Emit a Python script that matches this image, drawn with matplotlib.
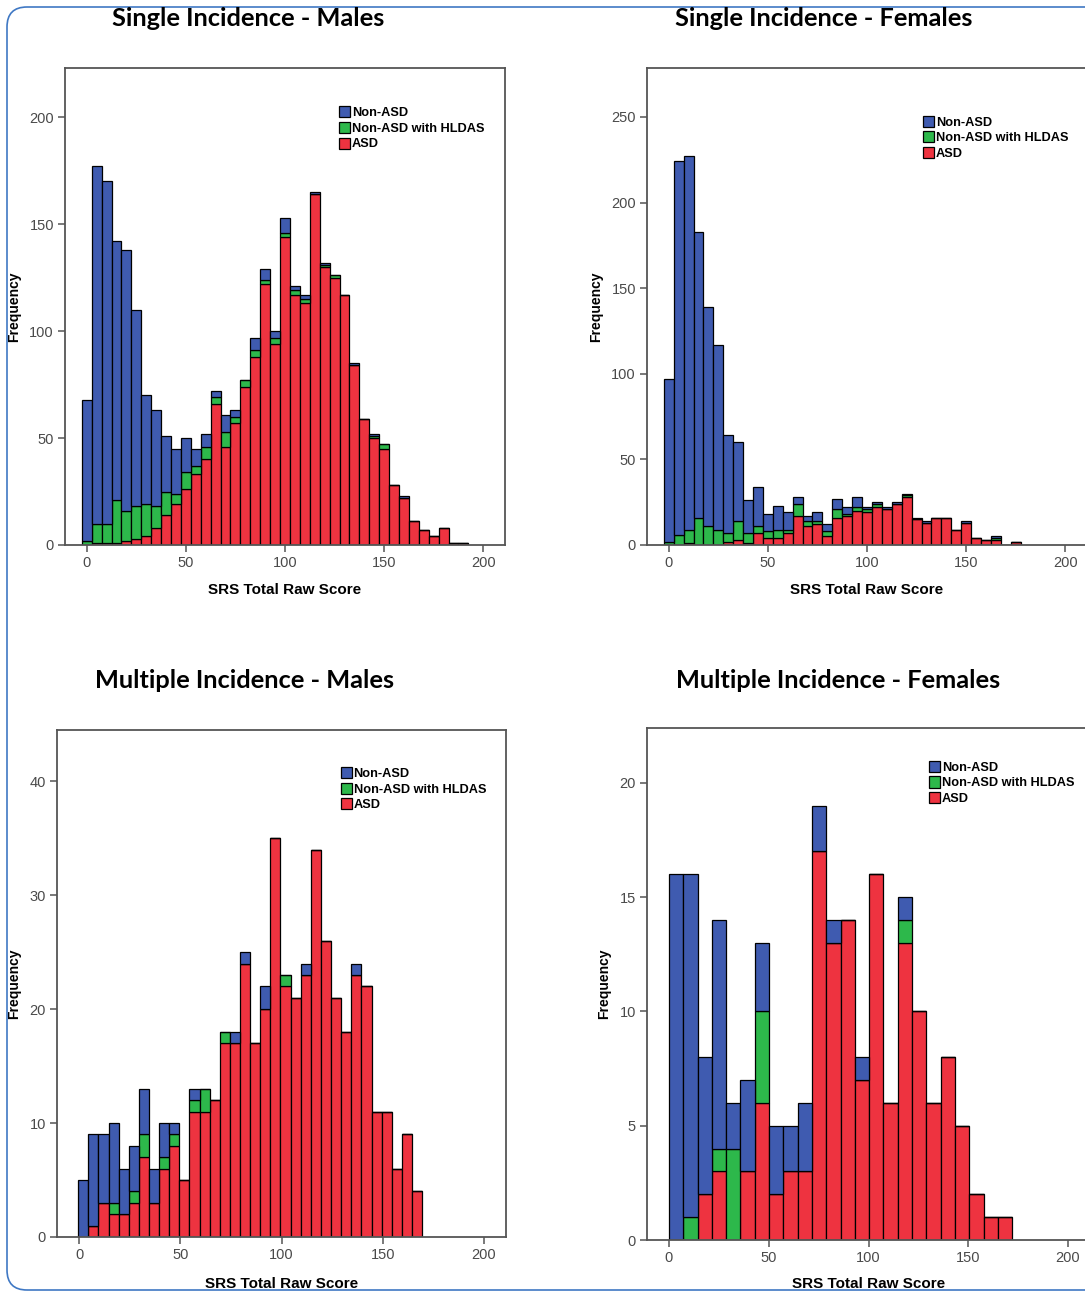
import matplotlib
matplotlib.use("Agg")
import matplotlib.pyplot as plt
from matplotlib.patches import Patch, FancyBboxPatch
import numpy as np

# bin centres (SRS total raw score)
sm_bins = np.arange(0, 195, 5)
sf_bins = np.arange(0, 180, 5)
mm_bins = np.arange(2, 170, 5)
mf_edges = np.linspace(0, 172, 25)

# Single incidence - males
sm_nonasd = [66, 167, 160, 121, 122, 92, 51, 45, 26, 21, 16, 8, 6, 3, 8, 3, 0, 6, 5, 3,
             7, 2, 2, 1, 1, 0, 0, 1, 0, 1, 0, 0, 1, 0, 0, 0, 0, 0, 0]
sm_hldas = [2, 9, 9, 20, 14, 15, 15, 10, 11, 5, 8, 4, 6, 3, 7, 3, 3, 3, 2, 3,
            2, 2, 2, 0, 1, 1, 0, 0, 0, 1, 2, 0, 0, 0, 0, 0, 0, 0, 0]
sm_asd = [0, 1, 1, 1, 2, 3, 4, 8, 14, 19, 26, 33, 40, 66, 46, 57, 74, 88, 122, 94,
          144, 117, 113, 164, 130, 125, 117, 84, 59, 50, 45, 28, 22, 11, 7, 4, 8, 1, 1]

# Single incidence - females
sf_nonasd = [95, 218, 218, 167, 128, 108, 57, 46, 19, 23, 10, 14, 10, 4, 3, 5, 4, 6,
             4, 6, 1, 1, 1, 1, 1, 1, 1, 0, 0, 0, 1, 0, 0, 1, 0, 0]
sf_hldas = [2, 6, 8, 16, 11, 9, 5, 11, 6, 4, 4, 5, 2, 7, 3, 2, 3, 5,
            1, 2, 2, 2, 0, 0, 1, 0, 0, 0, 0, 0, 0, 0, 0, 1, 0, 0]
sf_asd = [0, 0, 1, 0, 0, 0, 2, 3, 1, 7, 4, 4, 7, 17, 11, 12, 5, 16,
          17, 20, 19, 22, 21, 24, 28, 15, 13, 16, 16, 9, 13, 4, 3, 3, 0, 2]

# Multiple incidence - males
mm_nonasd = [5, 8, 6, 7, 4, 4, 4, 3, 3, 1, 0, 1, 0, 0, 0, 1, 1, 0, 2, 0,
             0, 0, 1, 0, 0, 0, 0, 1, 0, 0, 0, 0, 0, 0]
mm_hldas = [0, 0, 0, 1, 0, 1, 2, 0, 1, 1, 0, 1, 2, 0, 1, 0, 0, 0, 0, 0,
            1, 0, 0, 0, 0, 0, 0, 0, 0, 0, 0, 0, 0, 0]
mm_asd = [0, 1, 3, 2, 2, 3, 7, 3, 6, 8, 5, 11, 11, 12, 17, 17, 24, 17, 20, 35,
          22, 21, 23, 34, 26, 21, 18, 23, 22, 11, 11, 6, 9, 4]

# Multiple incidence - females
mf_nonasd = [16, 15, 6, 10, 2, 4, 3, 3, 2, 3, 2, 1, 0, 1, 0, 0, 1, 0, 0, 0, 0, 0, 0, 0]
mf_hldas = [0, 1, 0, 1, 4, 0, 4, 0, 0, 0, 0, 0, 0, 0, 0, 0, 1, 0, 0, 0, 0, 0, 0, 0]
mf_asd = [0, 0, 2, 3, 0, 3, 6, 2, 3, 3, 17, 13, 14, 7, 16, 6, 13, 10, 6, 8, 5, 2, 1, 1]

labels = ['Non-ASD', 'Non-ASD with HLDAS', 'ASD']
colors = ['#3f5bb0', '#2db84b', '#ee3340']

W, H = 1085, 1292
fig = plt.figure(figsize=(W / 100, H / 100), dpi=100)
fig.patch.set_facecolor('white')


def px_axes(left, top, right, bottom):
    return fig.add_axes([left / W, 1 - bottom / H, (right - left) / W, (bottom - top) / H])


def draw_panel(ax, x, width, nonasd, hldas, asd, ymax, yticks, ylab_x, xlab_y, leg_xy,
               align='center'):
    asd = np.array(asd)
    hldas = np.array(hldas)
    nonasd = np.array(nonasd)
    kw = dict(width=width, edgecolor='black', linewidth=0.9, align=align)
    ax.bar(x, asd, color=colors[2], **kw)
    ax.bar(x, hldas, bottom=asd, color=colors[1], **kw)
    ax.bar(x, nonasd, bottom=asd + hldas, color=colors[0], **kw)
    ax.set_xlim(-11, 211)
    ax.set_ylim(0, ymax)
    ax.set_xticks([0, 50, 100, 150, 200])
    ax.set_yticks(yticks)
    for s in ax.spines.values():
        s.set_color('#555555')
        s.set_linewidth(1.3)
    ax.tick_params(direction='out', length=5, width=1.1, color='#555555',
                   labelcolor='#4a4a4a', labelsize=10.5, pad=3)
    for lab in ax.get_xticklabels() + ax.get_yticklabels():
        lab.set_family('Liberation Sans')
    ax.set_xlabel('SRS Total Raw Score', fontsize=11, fontweight='bold',
                  family='Liberation Sans')
    ax.xaxis.set_label_coords(0.5, xlab_y)
    ax.set_ylabel('Frequency', fontsize=10, fontweight='bold', family='Liberation Sans')
    ax.yaxis.set_label_coords(ylab_x, 0.5)
    handles = [Patch(facecolor=c, edgecolor='black', linewidth=0.9) for c in colors]
    ax.legend(handles, labels, loc='upper left', bbox_to_anchor=leg_xy, frameon=False,
              prop={'family': 'Liberation Sans', 'weight': 'bold', 'size': 9.2},
              handlelength=0.85, handleheight=0.95, handletextpad=0.15,
              labelspacing=0.22, borderpad=0, borderaxespad=0)


ax1 = px_axes(65, 68, 505, 545)
draw_panel(ax1, sm_bins, 5, sm_nonasd, sm_hldas, sm_asd, 223, [0, 50, 100, 150, 200],
           -0.1, -0.08, (0.623, 0.92))
ax2 = px_axes(647, 68, 1087, 545)
draw_panel(ax2, sf_bins, 5, sf_nonasd, sf_hldas, sf_asd, 278.6, [0, 50, 100, 150, 200, 250],
           -0.1, -0.08, (0.627, 0.90))
ax3 = px_axes(57, 730, 506, 1237)
draw_panel(ax3, mm_bins, 5, mm_nonasd, mm_hldas, mm_asd, 44.5, [0, 10, 20, 30, 40],
           -0.08, -0.079, (0.632, 0.927))
ax4 = px_axes(647, 728, 1090, 1240)
draw_panel(ax4, mf_edges[:-1], np.diff(mf_edges), mf_nonasd, mf_hldas, mf_asd, 22.4,
           [0, 5, 10, 15, 20], -0.081, -0.072, (0.637, 0.936), align='edge')

title_kw = dict(ha='center', va='center', fontsize=18.3, fontweight='bold', family='Lato')
fig.text(248 / W, 1 - 18 / H, 'Single Incidence - Males', **title_kw)
fig.text(824 / W, 1 - 18 / H, 'Single Incidence - Females', **title_kw)
fig.text(245 / W, 1 - 680 / H, 'Multiple Incidence - Males', **title_kw)
fig.text(838 / W, 1 - 680 / H, 'Multiple Incidence - Females', **title_kw)

# rounded blue frame around the figure
frame = FancyBboxPatch((0.07, 0.02), 11.5, 12.83, boxstyle='round,pad=0,rounding_size=0.2',
                       transform=fig.dpi_scale_trans, facecolor='none',
                       edgecolor='#3f78c4', linewidth=1.2, zorder=-1)
fig.patches.append(frame)

fig.savefig('out.png', dpi=100)
